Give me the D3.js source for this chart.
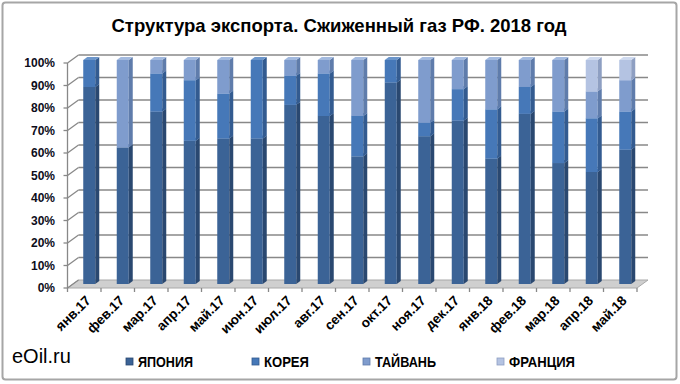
<!DOCTYPE html>
<html><head><meta charset="utf-8">
<script src="https://cdn.jsdelivr.net/npm/d3@7"></script>
<style>body{margin:0;background:#fff}svg{display:block}</style>
</head><body>
<svg id="c" width="680" height="384"></svg>
<script>
const categories = ["янв.17","фев.17","мар.17","апр.17","май.17","июн.17","июл.17","авг.17","сен.17","окт.17","ноя.17","дек.17","янв.18","фев.18","мар.18","апр.18","май.18"];
const japan  = [88, 61, 77, 64, 65, 65, 80, 75, 57, 90, 66, 73, 56, 76, 54, 50, 60];
const korea  = [12,  0, 17, 27, 20, 35, 13, 19, 18, 10,  6, 14, 22, 12, 23, 24, 17];
const taiwan = [ 0, 39,  6,  9, 15,  0,  7,  6, 25,  0, 28, 13, 22, 12, 23, 12, 14];
const france = [ 0,  0,  0,  0,  0,  0,  0,  0,  0,  0,  0,  0,  0,  0,  0, 14,  9];
const seriesNames = ["ЯПОНИЯ","КОРЕЯ","ТАЙВАНЬ","ФРАНЦИЯ"];
const yTicks = [0,10,20,30,40,50,60,70,80,90,100];
const title = "Структура экспорта. Сжиженный газ РФ. 2018 год";

const svg = d3.select("#c");
const colors = [
  {front:"#3b6396", side:"#2a4870", top:"#5a80b2"},
  {front:"#4678b8", side:"#335b90", top:"#6c96cb"},
  {front:"#7f9ccd", side:"#5f7cab", top:"#a3badf"},
  {front:"#b4c3e2", side:"#8e9fc2", top:"#cfdaef"}
];

// frame
svg.append("rect").attr("x",2.5).attr("y",2.5).attr("width",674).attr("height",377)
  .attr("rx",3).attr("fill","#fff").attr("stroke","#a6a6a6").attr("stroke-width",2);

// title
svg.append("text").attr("x",339).attr("y",32).attr("text-anchor","middle")
  .attr("font-family","'Liberation Sans Narrow','Arial Narrow','Liberation Sans',Arial,sans-serif")
  .attr("font-weight","bold").attr("font-size",19).attr("fill","#000")
  .attr("textLength",455).attr("lengthAdjust","spacingAndGlyphs").text(title);

// geometry
const x0 = 67.5, x1 = 637;
const D = {dx:11, dy:-8};
const yFront = d3.scaleLinear().domain([0,100]).range([288,63]);
const yBar = d3.scaleLinear().domain([0,100]).range([284,60]);
const x = d3.scaleBand().domain(categories).range([x0,x1]).padding(0);

// floor
svg.append("path")
  .attr("d",`M${x0},${yFront(0)}L${x1},${yFront(0)}L${x1+D.dx},${yFront(0)+D.dy}L${x0+D.dx},${yFront(0)+D.dy}Z`)
  .attr("fill","#cfcfcf").attr("stroke","#a8a8a8").attr("stroke-width",1);

// back wall gridlines + side wall diagonals
const grid = svg.append("g").attr("stroke","#888").attr("stroke-width",1.3).attr("fill","none");
yTicks.forEach(v=>{
  const yf = yFront(v);
  if (v>0) grid.append("line").attr("x1",x0+D.dx).attr("x2",x1+D.dx).attr("y1",yf+D.dy).attr("y2",yf+D.dy);
  grid.append("line").attr("x1",x0).attr("y1",yf).attr("x2",x0+D.dx).attr("y2",yf+D.dy);
  grid.append("line").attr("x1",x0-4).attr("x2",x0).attr("y1",yf).attr("y2",yf);
});
grid.append("line").attr("x1",x0).attr("x2",x0).attr("y1",yFront(0)).attr("y2",yFront(100));
// bottom ticks
const bounds = categories.map(c=>x(c)).concat([x1]);
bounds.forEach(b=>grid.append("line").attr("x1",b).attr("x2",b).attr("y1",yFront(0)).attr("y2",yFront(0)+4));

// y labels
svg.append("g").selectAll("text").data(yTicks).join("text")
  .attr("x",55).attr("y",d=>yFront(d)).attr("dy","0.35em").attr("text-anchor","end")
  .attr("font-family","'Liberation Sans',Arial,sans-serif").attr("font-weight","bold")
  .attr("font-size",12).attr("fill","#0d0d1a").text(d=>d+"%");

// bars
const table = categories.map((c,i)=>({cat:c, s0:japan[i], s1:korea[i], s2:taiwan[i], s3:france[i]}));
const stack = d3.stack().keys(["s0","s1","s2","s3"])(table);
const bw = 12, dep = 4, skew = 3, shift = 5;
const gBars = svg.append("g");
stack.forEach((layer,k)=>{
  layer.forEach(seg=>{
    if (seg[1]-seg[0] <= 0) return;
    const cx = x(seg.data.cat) + x.bandwidth()/2 + shift;
    const xl = cx - bw/2, xr = cx + bw/2;
    const yt = yBar(seg[1]), yb = yBar(seg[0]);
    const g = gBars.append("g");
    g.append("rect").attr("x",xl).attr("y",yt).attr("width",bw).attr("height",yb-yt).attr("fill",colors[k].front);
    g.append("path").attr("d",`M${xr},${yt}L${xr+dep},${yt-skew}L${xr+dep},${yb-skew}L${xr},${yb}Z`).attr("fill",colors[k].side);
    g.append("path").attr("d",`M${xl},${yt}L${xl+dep},${yt-skew}L${xr+dep},${yt-skew}L${xr},${yt}Z`).attr("fill",colors[k].top);
  });
});

// x labels
svg.append("g").selectAll("text").data(categories).join("text")
  .attr("transform",d=>`translate(${x(d)+x.bandwidth()/2+4},${yFront(0)+10}) rotate(-45)`)
  .attr("text-anchor","end").attr("dy","0.35em")
  .attr("font-family","'Liberation Sans',Arial,sans-serif").attr("font-weight","bold")
  .attr("font-size",13.5).attr("fill","#000").text(d=>d);

// watermark
svg.append("text").attr("x",12).attr("y",363)
  .attr("font-family","'Liberation Sans',Arial,sans-serif").attr("font-size",20)
  .attr("fill","#000").text("eOil.ru");

// legend
const legX = [126, 252, 363, 497];
const legW = [55, 45, 61, 66];
const lg = svg.append("g");
seriesNames.forEach((n,i)=>{
  lg.append("rect").attr("x",legX[i]).attr("y",358).attr("width",7).attr("height",7)
    .attr("fill",colors[i].front).attr("stroke",colors[i].side).attr("stroke-width",0.8);
  lg.append("text").attr("x",legX[i]+12).attr("y",367)
    .attr("font-family","'Liberation Sans Narrow','Arial Narrow','Liberation Sans',Arial,sans-serif")
    .attr("font-weight","bold").attr("font-size",14).attr("fill","#000")
    .attr("textLength",legW[i]).attr("lengthAdjust","spacingAndGlyphs").text(n);
});
</script>
</body></html>
